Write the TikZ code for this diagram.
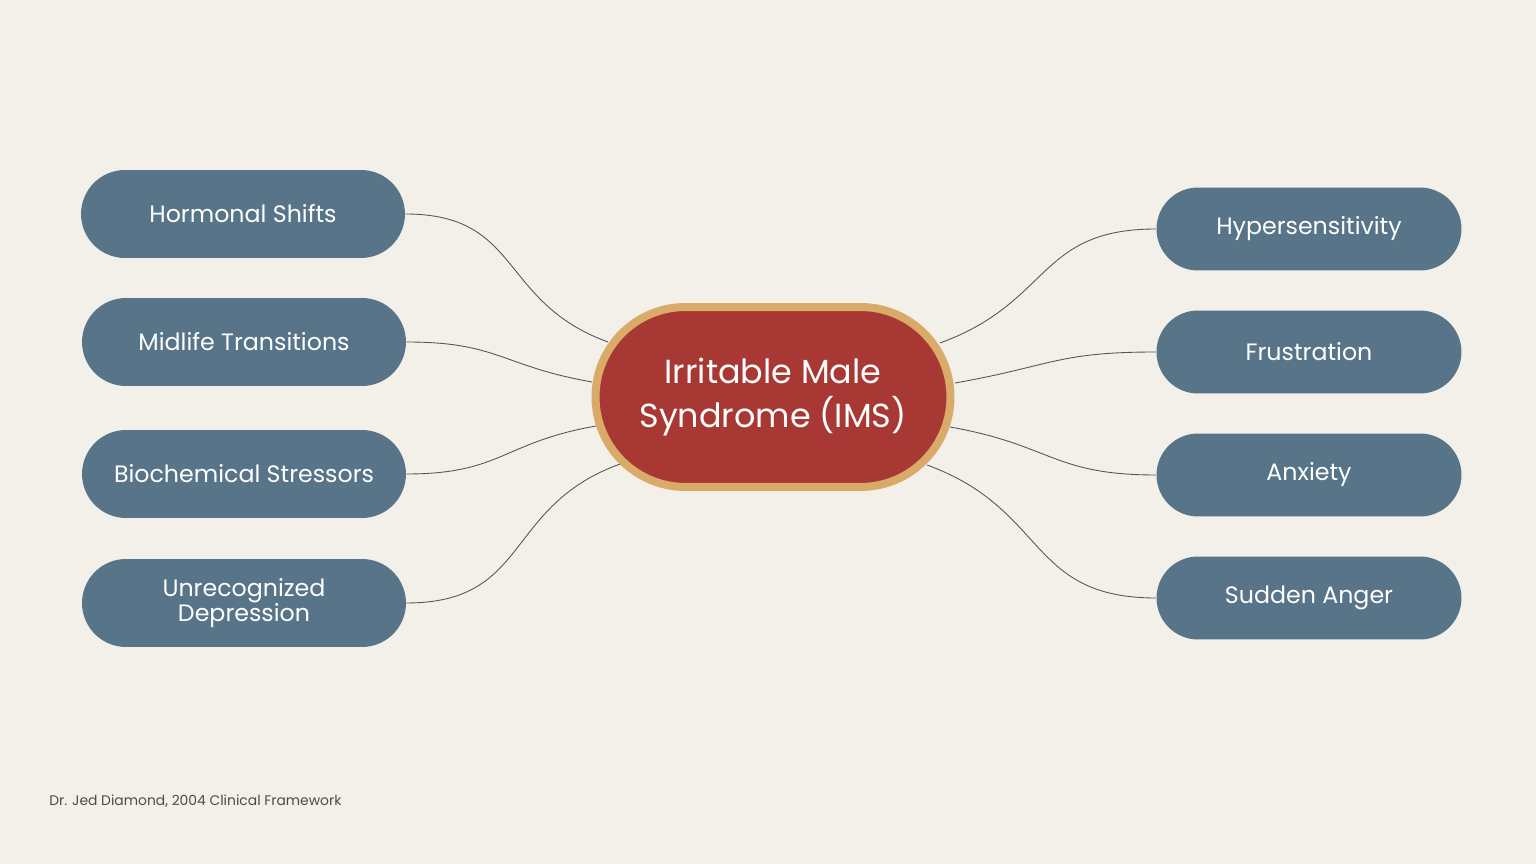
\documentclass[tikz,border=0pt]{standalone}
\usepackage{fontspec}
\setmainfont{Poppins}
\usetikzlibrary{shapes.misc}
\definecolor{bg}{HTML}{F2F0E8}
\definecolor{nodeblue}{HTML}{587488}
\definecolor{centred}{HTML}{A83833}
\definecolor{gold}{HTML}{D9AA68}
\definecolor{linec}{HTML}{55565A}
\begin{document}
\begin{tikzpicture}[x=0.02cm,y=-0.02cm,
  leaf/.style={rounded rectangle, fill=nodeblue, text=white!94!bg, font=\fontsize{13.5}{14}\selectfont, align=center, inner sep=0pt},
  lleaf/.style={leaf, minimum width=6.48cm, minimum height=1.76cm},
  rleaf/.style={leaf, minimum width=6.1cm, minimum height=1.66cm},
  conn/.style={draw=linec, line width=0.5pt, looseness=1.25}]
\fill[bg] (0,0) rectangle (1536,864);
\useasboundingbox (0,0) rectangle (1536,864);
\node[rounded rectangle, fill=centred, draw=gold, line width=0.16cm, minimum width=7.1cm, minimum height=3.6cm, text=white!94!bg, font=\fontsize{19}{25}\selectfont, align=center, inner sep=0pt] (c) at (773,397) {Irritable Male\\Syndrome (IMS)};
\node[lleaf] (l1) at (243,214) {Hormonal Shifts};
\node[lleaf] (l2) at (244,342) {Midlife Transitions};
\node[lleaf] (l3) at (244,474) {Biochemical Stressors};
\node[lleaf, font=\fontsize{13.5}{14.5}\selectfont] (l4) at (244,603) {Unrecognized\\Depression};
\node[rleaf] (r1) at (1309,229) {\raisebox{-2pt}{Hypersensitivity}};
\node[rleaf] (r2) at (1309,352) {\raisebox{-2pt}{Frustration}};
\node[rleaf] (r3) at (1309,475) {\raisebox{-2pt}{Anxiety}};
\node[rleaf] (r4) at (1309,598) {\raisebox{-2pt}{Sudden Anger}};
\coordinate (cl1) at (608,342);
\coordinate (cl2) at (592,382);
\coordinate (cl3) at (596,426);
\coordinate (cl4) at (620,464);
\coordinate (cr1) at (940,343);
\coordinate (cr2) at (955,383);
\coordinate (cr3) at (950,427);
\coordinate (cr4) at (927,465);
\draw[conn] (l1.east) to[out=0,in=160] (cl1);
\draw[conn] (l2.east) to[out=0,in=170] (cl2);
\draw[conn] (l3.east) to[out=0,in=190] (cl3);
\draw[conn] (l4.east) to[out=0,in=200] (cl4);
\draw[conn] (r1.west) to[out=180,in=20] (cr1);
\draw[conn] (r2.west) to[out=180,in=10] (cr2);
\draw[conn] (r3.west) to[out=180,in=-10] (cr3);
\draw[conn] (r4.west) to[out=180,in=-20] (cr4);
\node[anchor=west, text=black!70, font=\fontsize{7.9}{9}\selectfont, inner sep=0pt] (f) at (49,801) {Dr. Jed Diamond, 2004 Clinical Framework};
\end{tikzpicture}
\end{document}
